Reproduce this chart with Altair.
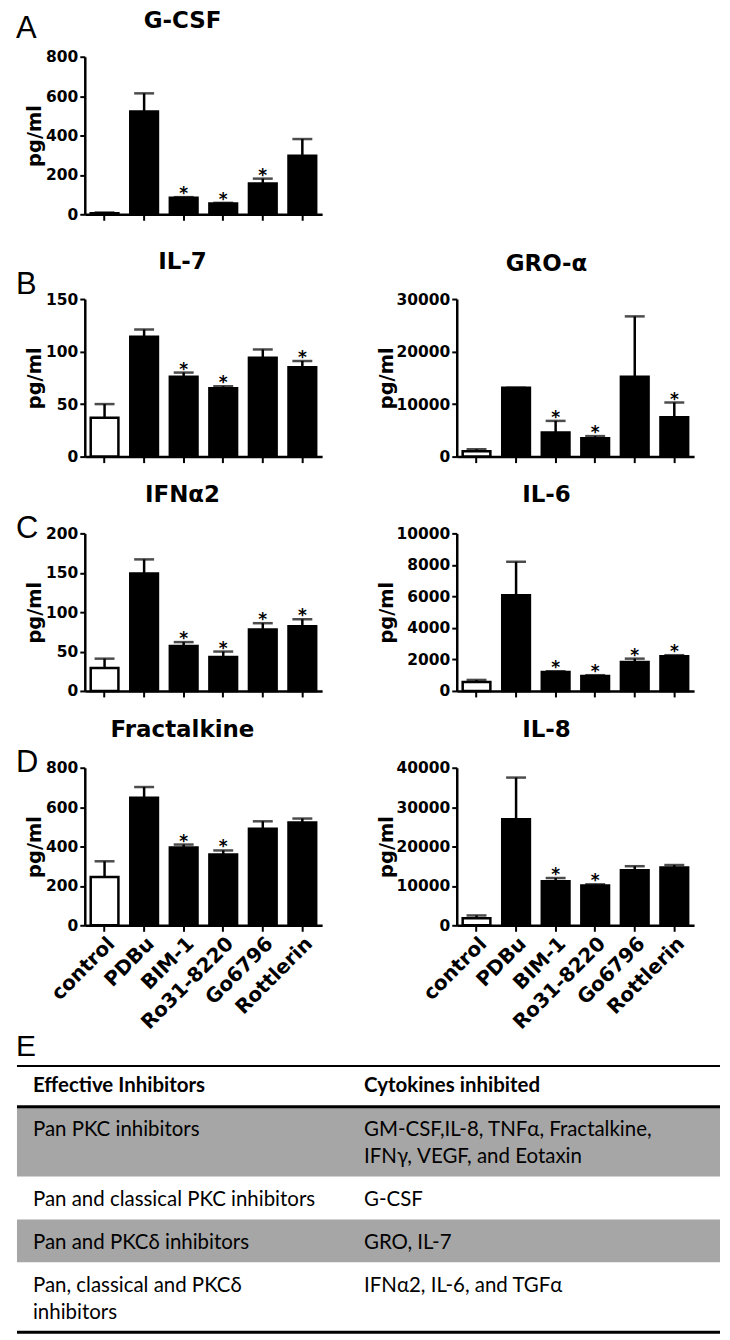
import altair as alt
import pandas as pd

categories = ["control", "PDBu", "BIM-1", "Ro31-8220", "Go6796", "Rottlerin"]

gcsf_mean = [5, 522, 84, 55, 156, 297]
gcsf_top = [9, 614, 87, 58, 181, 382]
gcsf_star = [0, 0, 1, 1, 1, 0]

il7_mean = [37, 114, 76, 65, 94, 85]
il7_top = [50, 121, 80, 67, 102, 91]
il7_star = [0, 0, 1, 1, 0, 1]

gro_mean = [1000, 13100, 4600, 3500, 15200, 7500]
gro_top = [1400, 13100, 6800, 3900, 26700, 10300]
gro_star = [0, 0, 1, 1, 0, 1]

ifna2_mean = [29, 149, 57, 43, 78, 82]
ifna2_top = [41, 167, 62, 50, 86, 91]
ifna2_star = [0, 0, 1, 1, 1, 1]

il6_mean = [570, 6070, 1200, 950, 1830, 2200]
il6_top = [700, 8200, 1250, 1000, 2050, 2270]
il6_star = [0, 0, 1, 1, 1, 1]

fkn_mean = [245, 648, 395, 360, 490, 522]
fkn_top = [325, 702, 410, 380, 528, 542]
fkn_star = [0, 0, 1, 1, 0, 0]

il8_mean = [1800, 26900, 11200, 10100, 14000, 14700]
il8_top = [2500, 37500, 12000, 10400, 15000, 15300]
il8_star = [0, 0, 1, 1, 0, 0]

table_header = ["Effective Inhibitors", "Cytokines inhibited"]
inhibitors = [
    "Pan PKC inhibitors",
    "Pan and classical PKC inhibitors",
    "Pan and PKC\u03b4 inhibitors",
    "Pan, classical and PKC\u03b4\ninhibitors",
]
cytokines_inhibited = [
    "GM-CSF,IL-8,  TNF\u03b1, Fractalkine,\nIFN\u03b3, VEGF, and Eotaxin",
    "G-CSF",
    "GRO, IL-7",
    "IFN\u03b12, IL-6, and TGF\u03b1",
]
row_shaded = [True, False, True, False]

W, H = 238, 158
BOLD = "DejaVu Sans"
LEFT_SHIFT = 68  # table starts left of the panel plot origin


def panel(name, means, tops, stars, ymax, ticks, side, letter=None, letter_y=0,
          title_off=30, labels=False):
    df = pd.DataFrame({
        "cat": categories,
        "mean": means,
        "top": tops,
        "star": ["*" if s else "" for s in stars],
        "kind": ["ctrl" if c == "control" else "trt" for c in categories],
    })
    ext = 37 if side == "left" else 57
    title_dx = -21 if side == "left" else -29
    xenc = alt.X("cat:N", sort=categories,
                 scale=alt.Scale(paddingInner=0.3, paddingOuter=0.15),
                 axis=alt.Axis(title=None, labels=labels, labelAngle=-45,
                               labelFontSize=20, tickSize=6, labelPadding=2))
    yscale = alt.Scale(domain=[0, ymax], nice=False, zero=True)
    yaxis = alt.Axis(title="pg/ml", values=ticks, format="d", minExtent=ext,
                     maxExtent=ext, titlePadding=3)

    def Y(f):
        return alt.Y(f, type="quantitative", scale=yscale, axis=yaxis)

    base = alt.Chart(df)
    bars = base.mark_bar(stroke="black", strokeWidth=2.5, strokeJoin="miter").encode(
        x=xenc, y=Y("mean"),
        fill=alt.Fill("kind:N", scale=alt.Scale(domain=["ctrl", "trt"], range=["white", "black"]),
                      legend=None))
    err = base.mark_rule(color="black", strokeWidth=2.5).encode(x=xenc, y=Y("mean"), y2="top:Q")
    cap = base.mark_tick(color="black", thickness=2.5, size=20, orient="horizontal").encode(
        x=xenc, y=Y("top"))
    star = base.mark_text(font=BOLD, fontWeight="bold", fontSize=17, baseline="alphabetic",
                          dy=2, color="black").encode(x=xenc, y=Y("top"), text="star:N")
    title = alt.Chart(pd.DataFrame({"t": [name]})).mark_text(
        font=BOLD, fontWeight="bold", fontSize=23, baseline="alphabetic", align="center",
        color="black").encode(text="t:N", x=alt.value(W / 2 + title_dx), y=alt.value(-title_off))
    layers = [bars, err, cap, star, title]
    if letter:
        lt = alt.Chart(pd.DataFrame({"t": [letter]})).mark_text(
            font="Liberation Sans", fontSize=31, baseline="middle", align="left",
            color="black").encode(text="t:N", x=alt.value(-69), y=alt.value(letter_y))
        layers.append(lt)
    return alt.layer(*layers).properties(width=W, height=H)


pA = panel("G-CSF", gcsf_mean, gcsf_top, gcsf_star, 800, [0, 200, 400, 600, 800], "left",
           "A", -28, 29)
pB1 = panel("IL-7", il7_mean, il7_top, il7_star, 150, [0, 50, 100, 150], "left", "B", -14, 30)
pB2 = panel("GRO-\u03b1", gro_mean, gro_top, gro_star, 30000, [0, 10000, 20000, 30000], "right",
            None, 0, 28)
pC1 = panel("IFN\u03b12", ifna2_mean, ifna2_top, ifna2_star, 200, [0, 50, 100, 150, 200], "left",
            "C", -4, 31)
pC2 = panel("IL-6", il6_mean, il6_top, il6_star, 10000, [0, 2000, 4000, 6000, 8000, 10000],
            "right", None, 0, 31)
pD1 = panel("Fractalkine", fkn_mean, fkn_top, fkn_star, 800, [0, 200, 400, 600, 800], "left",
            "D", -5, 31, labels=True)
pD2 = panel("IL-8", il8_mean, il8_top, il8_star, 40000, [0, 10000, 20000, 30000, 40000], "right",
            None, 0, 31, labels=True)

# ---- table (E) ----
TW = 705
HEADER_H, LINE_H, ROW_PAD = 41, 27, 16
COL2 = 348
text_rows = []
for j, h in enumerate(table_header):
    text_rows.append({"x": 16 if j == 0 else COL2, "y": HEADER_H / 2, "t": h, "bold": 1})
rects = []
y = HEADER_H
for i in range(len(inhibitors)):
    a = inhibitors[i].split("\n")
    b = cytokines_inhibited[i].split("\n")
    n = max(len(a), len(b))
    h = ROW_PAD + LINE_H * n
    if row_shaded[i]:
        rects.append({"x0": 0, "x1": TW, "y0": y, "y1": y + h})
    for k, s in enumerate(a):
        text_rows.append({"x": 16, "y": y + 23.5 + LINE_H * k, "t": s, "bold": 0})
    for k, s in enumerate(b):
        text_rows.append({"x": COL2, "y": y + 23.5 + LINE_H * k, "t": s, "bold": 0})
    y += h
TH = y
rules = pd.DataFrame({"x0": [0, 0, 0], "x1": [TW, TW, TW], "y": [0, HEADER_H, TH],
                      "w": [2, 3, 3]})
tdf = pd.DataFrame(text_rows)
xs = alt.Scale(domain=[0, TW], range=[-LEFT_SHIFT, TW - LEFT_SHIFT], nice=False, zero=False)
ys = alt.Scale(domain=[0, TH], nice=False, zero=False, reverse=True)

t_rect = alt.Chart(pd.DataFrame(rects)).mark_rect(color="#a6a6a6").encode(
    x=alt.X("x0:Q", scale=xs, axis=None), x2="x1:Q",
    y=alt.Y("y0:Q", scale=ys, axis=None), y2="y1:Q")
t_rule = alt.Chart(rules).mark_rule(color="black").encode(
    x=alt.X("x0:Q", scale=xs, axis=None), x2="x1:Q",
    y=alt.Y("y:Q", scale=ys, axis=None), strokeWidth=alt.StrokeWidth("w:Q", scale=None))
t_head = alt.Chart(tdf[tdf.bold == 1]).mark_text(
    font="Lato", fontSize=20.5, fontWeight="bold", align="left", baseline="middle",
    color="black").encode(x=alt.X("x:Q", scale=xs, axis=None),
                          y=alt.Y("y:Q", scale=ys, axis=None), text="t:N")
t_body = alt.Chart(tdf[tdf.bold == 0]).mark_text(
    font="Lato", fontSize=20.5, align="left", baseline="middle", color="black").encode(
    x=alt.X("x:Q", scale=xs, axis=None), y=alt.Y("y:Q", scale=ys, axis=None), text="t:N")
t_letter = alt.Chart(pd.DataFrame({"t": ["E"]})).mark_text(
    font="Liberation Sans", fontSize=30, baseline="middle", align="left",
    color="black").encode(text="t:N", x=alt.value(-1 - LEFT_SHIFT), y=alt.value(-19))
table = alt.layer(t_rect, t_rule, t_head, t_body, t_letter).properties(
    width=TW - LEFT_SHIFT, height=TH)

rowA = alt.hconcat(pA)
rowB = alt.hconcat(pB1, pB2, spacing=55)
rowC = alt.hconcat(pC1, pC2, spacing=55)
rowD = alt.hconcat(pD1, pD2, spacing=55)
inner = alt.vconcat(rowB, rowC, rowD, spacing=19)
top = alt.vconcat(rowA, inner, spacing=28)

chart = alt.vconcat(top, alt.hconcat(table), spacing=-1).properties(
    padding={"left": 7, "top": 0, "right": 0, "bottom": 0}
).configure_view(stroke=None).configure_axis(
    domainColor="black", domainWidth=2.5, tickColor="black", tickWidth=2, tickSize=5,
    labelFont=BOLD, labelFontWeight="bold", labelFontSize=15.5, labelColor="black",
    titleFont=BOLD, titleFontSize=19.5, titleFontWeight="bold", titleColor="black",
    grid=False)

chart.save("out.html", embed_options={"renderer": "svg", "actions": False})
